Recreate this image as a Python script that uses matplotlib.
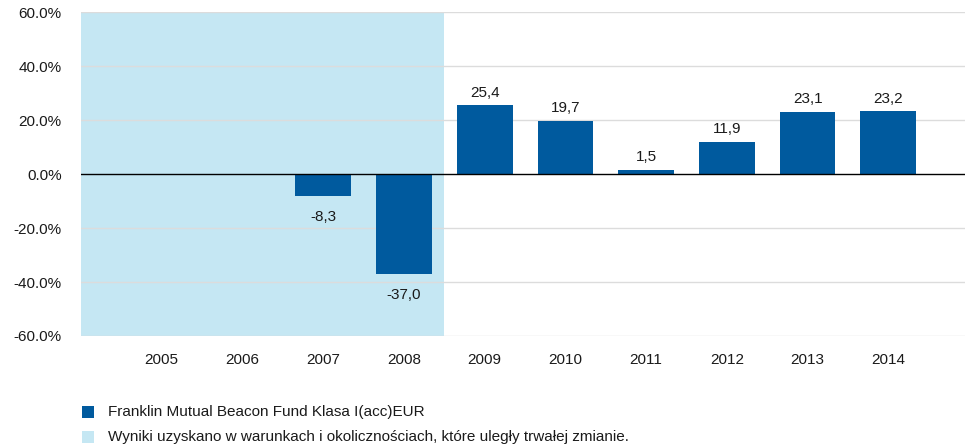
import matplotlib
matplotlib.use("Agg")
import matplotlib.pyplot as plt
from matplotlib.patches import Rectangle

years = ["2005", "2006", "2007", "2008", "2009", "2010", "2011", "2012", "2013", "2014"]
values = [None, None, -8.3, -37.0, 25.4, 19.7, 1.5, 11.9, 23.1, 23.2]
yticks = [-60, -40, -20, 0, 20, 40, 60]
legend_labels = ["Franklin Mutual Beacon Fund Klasa I(acc)EUR",
                 "Wyniki uzyskano w warunkach i okolicznościach, które uległy trwałej zmianie."]
shade_until = "2008"

BAR = "#005A9E"
SHADE = "#C5E7F3"
GRID = "#DCDCDC"
TXT = "#1a1a1a"
FS = 11
plt.rcParams['font.family'] = ['Liberation Sans', 'DejaVu Sans']

W, H = 965, 446
fig = plt.figure(figsize=(W / 100, H / 100), dpi=100)
ax = fig.add_axes([81 / W, (H - 336) / H, (965 - 81) / W, (336 - 12) / H])

x = list(range(len(years)))
shade_end = years.index(shade_until) + 0.5
ax.axvspan(-1.0, shade_end, color=SHADE, zorder=0, lw=0)

for i, v in zip(x, values):
    if v is None:
        continue
    ax.bar(i, v, width=0.69, color=BAR, zorder=3)
    lab = f"{v:.1f}".replace(".", ",")
    if v >= 0:
        ax.annotate(lab, (i, v), xytext=(0, 4), textcoords="offset points",
                    ha="center", va="bottom", fontsize=FS, color=TXT, zorder=4)
    else:
        ax.annotate(lab, (i, v), xytext=(0, -10), textcoords="offset points",
                    ha="center", va="top", fontsize=FS, color=TXT, zorder=4)

ax.set_xlim(-1.0, 9.95)
ax.set_ylim(-60, 60)
ax.set_yticks(yticks)
ax.set_yticklabels([f"{t:.1f}%" for t in yticks], fontsize=FS, color=TXT)
ax.set_xticks(x)
ax.set_xticklabels(years, fontsize=FS, color=TXT)
ax.tick_params(axis="both", length=0)
ax.tick_params(axis="y", pad=14)
ax.tick_params(axis="x", pad=12)
for t in [-60, -40, -20, 20, 40, 60]:
    ax.axhline(t, color=GRID, lw=1, zorder=1)
ax.axhline(0, color="#000000", lw=1, zorder=5)
for s in ax.spines.values():
    s.set_visible(False)

# legend
for k, (lab, col) in enumerate(zip(legend_labels, [BAR, SHADE])):
    yc = 412 + k * 25
    fig.patches.append(Rectangle((82 / W, (H - yc - 6) / H), 12 / W, 12 / H,
                                 transform=fig.transFigure, color=col, lw=0))
    fig.text(108 / W, (H - yc) / H, lab, fontsize=FS, color=TXT, va="center", ha="left")

fig.savefig("out.png", dpi=100)
